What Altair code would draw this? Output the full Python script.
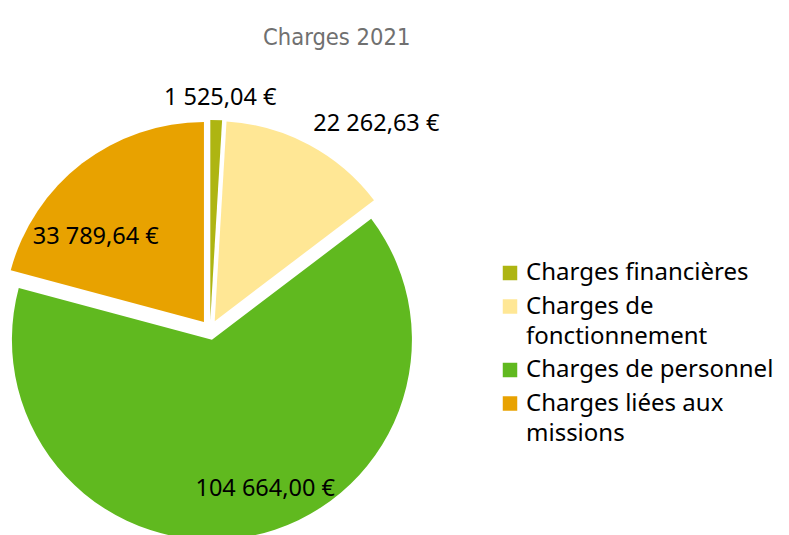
import altair as alt
import pandas as pd

categories = ["Charges financières", "Charges de fonctionnement",
              "Charges de personnel", "Charges liées aux missions"]
values = [1525.04, 22262.63, 104664.00, 33789.64]
colors = ["#AEB512", "#FFE795", "#60B91F", "#E8A200"]

df = pd.DataFrame({"cat": categories, "value": values, "order": list(range(len(categories)))})

CX, CY, R, D = 202, 262, 200, 10
FONT = "Noto Sans"

base = alt.Chart(df).transform_joinaggregate(
    total="sum(value)"
).transform_window(
    cum="sum(value)", sort=[alt.SortField("order")], frame=[None, 0]
).transform_calculate(
    start="2*PI*(datum.cum - datum.value)/datum.total",
    end="2*PI*datum.cum/datum.total",
    mid="(datum.start + datum.end)/2",
    frac="datum.value/datum.total",
    cx=f"{CX} + {D}*sin(datum.mid)",
    cy=f"{CY} - {D}*cos(datum.mid)",
    label="format(datum.value, ',.2f') + ' €'",
    w="length(datum.label)*11.5",
    inside="datum.frac > 0.15",
    la="datum.inside ? datum.mid - 0.18 : datum.mid",
    lr=f"datum.inside ? {R}*0.73 : {R}+9",
    lx="datum.cx + datum.lr*sin(datum.la) + (datum.inside ? 0 : datum.w/2*clamp(2.2*sin(datum.la), -1, 1))",
    ly="datum.cy - datum.lr*cos(datum.la) + (datum.inside ? 13 : -13*clamp(2.2*cos(datum.la), -1, 1))",
)

legend = alt.Legend(
    title=None, orient="none", legendX=490, legendY=193,
    symbolType="square", symbolSize=210, symbolStrokeWidth=0,
    labelFont=FONT, labelFontSize=24, labelColor="#000000", labelLimit=400,
    labelExpr="datum.label == 'Charges de fonctionnement' ? ['Charges de', 'fonctionnement'] : datum.label == 'Charges liées aux missions' ? ['Charges liées aux', 'missions'] : datum.label",
    rowPadding=9.5, labelOffset=4,
)

arcs = base.mark_arc(outerRadius=R, stroke=None).encode(
    x=alt.X("cx:Q", scale=None, axis=None),
    y=alt.Y("cy:Q", scale=None, axis=None),
    theta=alt.Theta("start:Q", scale=None),
    theta2="end:Q",
    color=alt.Color("cat:N", scale=alt.Scale(domain=categories, range=colors), legend=legend),
)

labels = base.mark_text(font=FONT, fontSize=23.5, color="#000000", align="center", baseline="middle").encode(
    x=alt.X("lx:Q", scale=None, axis=None),
    y=alt.Y("ly:Q", scale=None, axis=None),
    text="label:N",
)

chart = alt.layer(arcs, labels).properties(
    width=773, height=467,
    autosize="none",
    padding={"left": 0, "right": 0, "top": 60, "bottom": 0},
    title=alt.Title("Charges 2021", font="DejaVu Sans Condensed", fontSize=23.5, fontWeight="normal",
                    color="#707070", anchor="start", dx=255, offset=19),
).configure(
    view=alt.ViewConfig(stroke=None),
    style={"guide-label": {"lineHeight": 30}},
    locale={"number": {"decimal": ",", "thousands": "\u00a0", "grouping": [3], "currency": ["", " €"]}},
)

chart.save("out.html", embed_options={"renderer": "svg", "actions": False})
